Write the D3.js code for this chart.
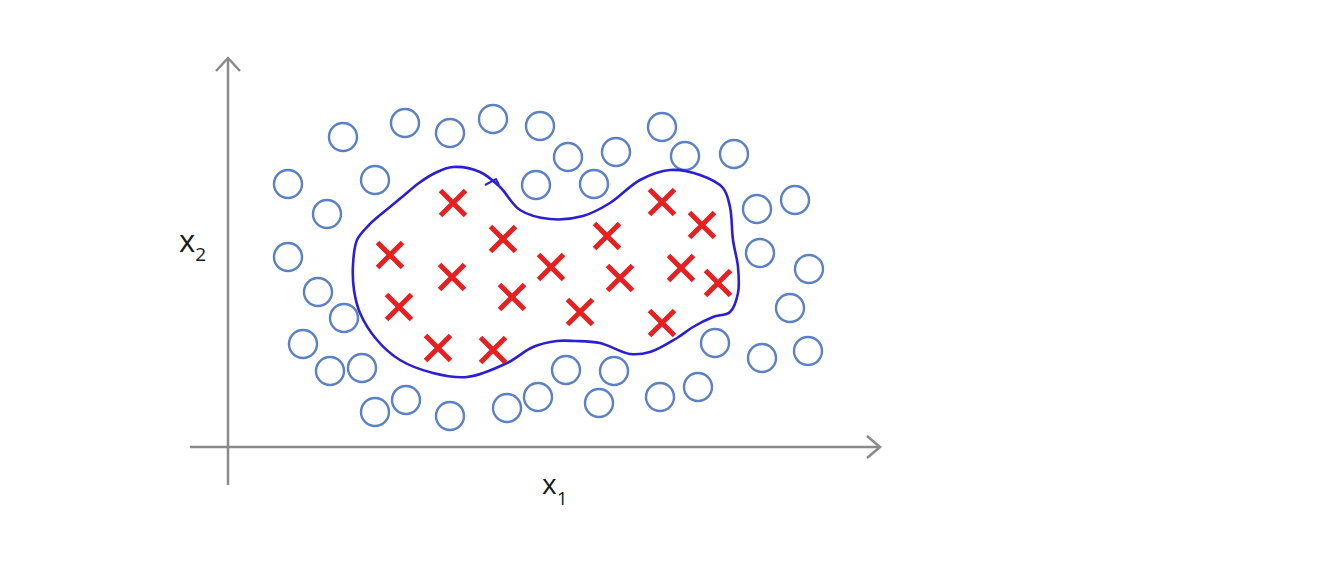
<!DOCTYPE html>
<html>
<head>
<meta charset="utf-8">
<script src="https://cdn.jsdelivr.net/npm/d3@7"></script>
<style>
  html, body { margin: 0; padding: 0; background: #fff; }
  svg { display: block; }
</style>
</head>
<body>
<svg></svg>
<script>
// negative class (o)
var circlesX = [115, 177, 222, 265, 312, 434, 340, 388, 457, 506,
  60, 147, 308, 366, 99, 529, 567, 60, 532, 581,
  90, 116, 562, 75, 102, 134, 487, 534, 580,
  147, 178, 222, 279, 310, 338, 386, 371, 432, 470];
var circlesY = [310, 324, 314, 328, 321, 320, 290, 295, 291, 293,
  263, 267, 262, 263, 233, 238, 247, 190, 194, 178,
  155, 129, 139, 103, 76, 79, 104, 89, 96,
  35, 47, 31, 39, 50, 77, 76, 44, 50, 60];

// positive class (x)
var crossX = [225, 162, 275, 379, 434, 474, 323, 224, 392, 453, 490, 171, 284, 352, 434, 210, 265];
var crossY = [244, 192, 208, 211, 245, 222, 180, 170, 169, 179, 164, 140, 150, 135, 124, 99, 97];

// hand drawn decision boundary
var boundX = [125, 129, 141, 157, 174, 191, 207, 225, 252, 272, 292, 322, 355, 382, 412, 442, 472, 495, 502,
  505, 510, 510, 502, 485, 465, 449, 422, 402, 372, 347, 329, 305, 279, 239, 205, 172, 149, 132, 126];
var boundY = [182, 207, 222, 236, 250, 264, 274, 280, 275, 260, 237, 228, 231, 244, 267, 277, 272, 259, 240,
  207, 180, 154, 135, 130, 120, 109, 95, 93, 104, 106, 106, 100, 84, 70, 74, 87, 107, 134, 157];

var width = 1336, height = 564;
var svg = d3.select('svg').attr('width', width).attr('height', height);

var x = d3.scaleLinear().domain([0, 652]).range([228, 880]);
var y = d3.scaleLinear().domain([0, 390]).range([447, 57]);

var g = svg.append('g');

// axes
var axisColor = '#8a8a8a';
g.append('line')
  .attr('x1', x(-38)).attr('x2', x(652)).attr('y1', y(0)).attr('y2', y(0))
  .attr('stroke', axisColor).attr('stroke-width', 2.5);
g.append('line')
  .attr('x1', x(0)).attr('x2', x(0)).attr('y1', y(-38)).attr('y2', y(389))
  .attr('stroke', axisColor).attr('stroke-width', 2.5);
g.append('path')
  .attr('d', 'M' + (x(652) - 13) + ',' + (y(0) - 11) + 'L' + x(652) + ',' + y(0) + 'L' + (x(652) - 13) + ',' + (y(0) + 11))
  .attr('fill', 'none').attr('stroke', axisColor).attr('stroke-width', 2.5);
g.append('path')
  .attr('d', 'M' + (x(0) - 12) + ',' + (y(389) + 13) + 'L' + x(0) + ',' + y(389) + 'L' + (x(0) + 12) + ',' + (y(389) + 13))
  .attr('fill', 'none').attr('stroke', axisColor).attr('stroke-width', 2.5);

// labels
var lx = g.append('text').attr('x', 542).attr('y', 494)
  .attr('font-family', 'Open Sans, sans-serif').attr('font-size', 28).attr('fill', '#1a1a1a');
lx.append('tspan').text('x');
lx.append('tspan').attr('font-size', 19).attr('dy', 11).text('1');

var ly = g.append('text').attr('x', 179).attr('y', 252)
  .attr('font-family', 'Open Sans, sans-serif').attr('font-size', 31).attr('fill', '#1a1a1a');
ly.append('tspan').text('x');
ly.append('tspan').attr('font-size', 19).attr('dy', 9).text('2');

// circles
var circ = d3.range(circlesX.length).map(function(i) { return {x: circlesX[i], y: circlesY[i]}; });
g.selectAll('circle.neg').data(circ).enter()
  .append('circle')
  .attr('class', 'neg')
  .attr('cx', function(d) { return x(d.x); })
  .attr('cy', function(d) { return y(d.y); })
  .attr('r', 14)
  .attr('fill', 'none')
  .attr('stroke', '#5b80c6')
  .attr('stroke-width', 2.4);

// boundary
var bound = d3.range(boundX.length).map(function(i) { return [x(boundX[i]), y(boundY[i])]; });
g.append('path')
  .attr('d', d3.line().curve(d3.curveCatmullRomClosed)(bound))
  .attr('fill', 'none')
  .attr('stroke', '#2a1fd2')
  .attr('stroke-width', 2.6);
g.append('path')
  .attr('d', d3.line()([[x(257), y(262)], [x(268), y(268)], [x(271), y(262)]]))
  .attr('fill', 'none')
  .attr('stroke', '#2a1fd2')
  .attr('stroke-width', 2);

// crosses
var cr = d3.range(crossX.length).map(function(i) { return {x: crossX[i], y: crossY[i]}; });
var s = 12.5;
g.selectAll('path.pos').data(cr).enter()
  .append('path')
  .attr('class', 'pos')
  .attr('d', function(d) {
    var cx = x(d.x), cy = y(d.y);
    return 'M' + (cx - s) + ',' + (cy - s) + 'L' + (cx + s) + ',' + (cy + s) +
      'M' + (cx - s) + ',' + (cy + s) + 'L' + (cx + s) + ',' + (cy - s);
  })
  .attr('stroke', '#e62020')
  .attr('stroke-width', 5)
  .attr('fill', 'none');
</script>
</body>
</html>
